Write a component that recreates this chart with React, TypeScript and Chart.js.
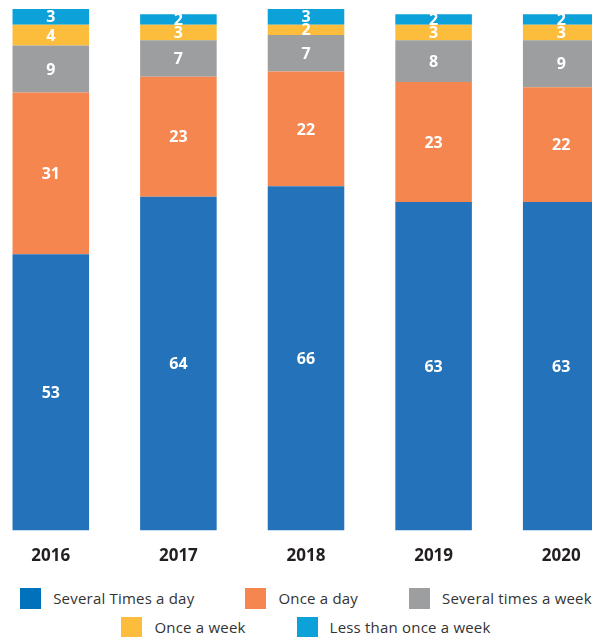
import React, { useEffect, useRef } from "react";
import { Chart, registerables } from "chart.js";

Chart.register(...registerables);

const years = ["2016", "2017", "2018", "2019", "2020"];
const severalTimesADay = [53, 64, 66, 63, 63];
const onceADay = [31, 23, 22, 23, 22];
const severalTimesAWeek = [9, 7, 7, 8, 9];
const onceAWeek = [4, 3, 2, 3, 3];
const lessThanOnceAWeek = [3, 2, 3, 2, 2];

const seriesNames = [
  "Several Times a day",
  "Once a day",
  "Several times a week",
  "Once a week",
  "Less than once a week",
];
const barColors = ["#2472BA", "#F6864F", "#9D9EA0", "#FDBD3C", "#0CA2D9"];
const legendColors = ["#0072BC", "#F6864F", "#9D9EA0", "#FDBD3C", "#0CA2D9"];

const FONT = '"Open Sans", "Noto Sans", sans-serif';

const segmentLabels = {
  id: "segmentLabels",
  afterDatasetsDraw(chart: any) {
    const ctx = chart.ctx;
    ctx.save();
    ctx.font = `bold 16px ${FONT}`;
    ctx.fillStyle = "#ffffff";
    ctx.textAlign = "center";
    ctx.textBaseline = "middle";
    chart.data.datasets.forEach((ds: any, i: number) => {
      const meta = chart.getDatasetMeta(i);
      meta.data.forEach((bar: any, j: number) => {
        const p = bar.getProps(["x", "y", "base"], true);
        ctx.fillText(String(ds.data[j]), p.x, (p.y + p.base) / 2 + 1);
      });
    });
    ctx.restore();
  },
};

export default function App() {
  const ref = useRef<HTMLCanvasElement | null>(null);

  useEffect(() => {
    if (!ref.current) return;
    const seriesData = [
      severalTimesADay,
      onceADay,
      severalTimesAWeek,
      onceAWeek,
      lessThanOnceAWeek,
    ];
    const chart = new Chart(ref.current, {
      type: "bar",
      data: {
        labels: years,
        datasets: seriesData.map((d, i) => ({
          label: seriesNames[i],
          data: d,
          backgroundColor: barColors[i],
          borderWidth: 0,
          categoryPercentage: 1,
          barPercentage: 0.6,
        })),
      },
      options: {
        responsive: false,
        animation: false,
        layout: { padding: { top: 9, bottom: 0, left: 0, right: 0 } },
        plugins: {
          legend: { display: false },
          tooltip: { enabled: false },
        },
        scales: {
          x: {
            stacked: true,
            grid: { display: false, drawTicks: false },
            border: { display: false },
            ticks: {
              padding: 15,
              color: "#231F20",
              font: { family: FONT, size: 17, weight: "bold" },
            },
          },
          y: {
            stacked: true,
            display: false,
            min: 0,
            max: 100,
          },
        },
      },
      plugins: [segmentLabels],
    });
    return () => chart.destroy();
  }, []);

  const rows = [
    [0, 1, 2],
    [3, 4],
  ];
  const rowTops = [588, 617];

  return (
    <div
      style={{
        position: "fixed",
        left: 0,
        top: 0,
        width: 592,
        height: 637,
        overflow: "hidden",
        background: "#ffffff",
      }}
    >
      <div style={{ position: "absolute", left: -13, top: 0, width: 638, height: 637 }}>
        <canvas ref={ref} width={638} height={581} style={{ display: "block" }} />
        {rows.map((row, r) => (
          <div
            key={r}
            style={{
              position: "absolute",
              left: 0,
              top: rowTops[r],
              width: 638,
              height: 21,
              display: "flex",
              justifyContent: "center",
              alignItems: "center",
              gap: 51,
            }}
          >
            {row.map((i) => (
              <div key={i} style={{ display: "flex", alignItems: "center", gap: 12 }}>
                <span
                  style={{
                    display: "inline-block",
                    width: 21,
                    height: 21,
                    background: legendColors[i],
                  }}
                />
                <span
                  style={{
                    fontFamily: FONT,
                    fontSize: 15,
                    letterSpacing: "0.2px",
                    color: "#333333",
                    whiteSpace: "nowrap",
                    lineHeight: "21px",
                  }}
                >
                  {seriesNames[i]}
                </span>
              </div>
            ))}
          </div>
        ))}
      </div>
    </div>
  );
}
